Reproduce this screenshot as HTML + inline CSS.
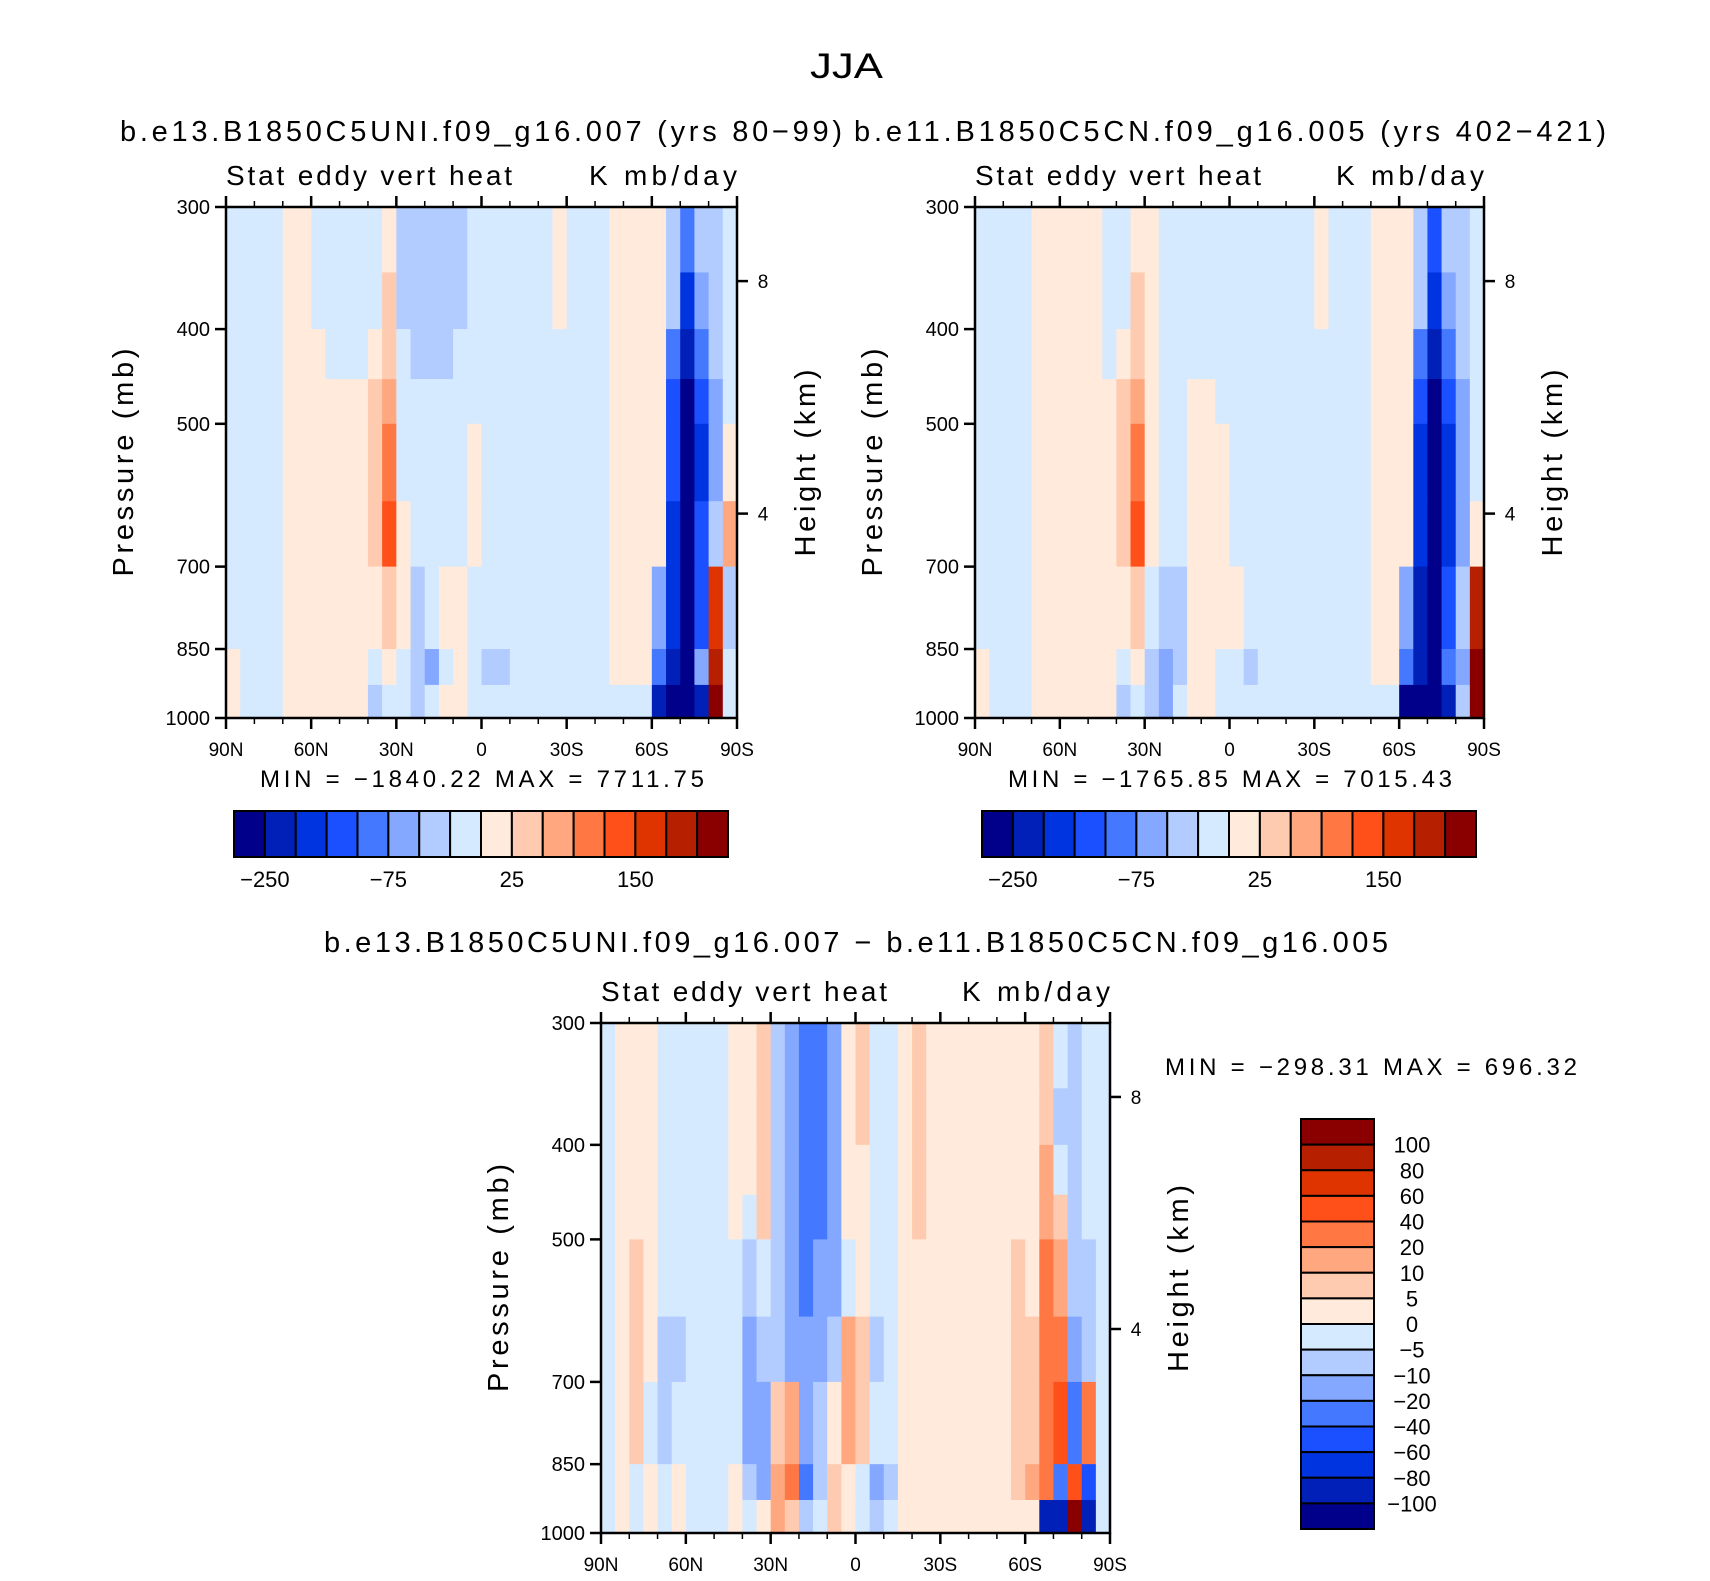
<!DOCTYPE html>
<html><head><meta charset="utf-8"><style>
html,body{margin:0;padding:0;background:#fff;}
svg{display:block;font-family:"Liberation Sans",sans-serif;}
</style></head><body>
<svg id="fig" width="1710" height="1581" viewBox="0 0 1710 1581" xmlns="http://www.w3.org/2000/svg">
<text x="810" y="78" font-size="35" textLength="73" lengthAdjust="spacingAndGlyphs">JJA</text>
<text x="120" y="141" font-size="29" textLength="722" lengthAdjust="spacing">b.e13.B1850C5UNI.f09_g16.007 (yrs 80−99)</text>
<text x="854" y="141" font-size="29" textLength="752" lengthAdjust="spacing">b.e11.B1850C5CN.f09_g16.005 (yrs 402−421)</text>
<text x="324" y="952" font-size="29" textLength="1064" lengthAdjust="spacing">b.e13.B1850C5UNI.f09_g16.007 − b.e11.B1850C5CN.f09_g16.005</text>
<g id="layer"></g>
</svg>
<script>
// ---- data ----
const pressureEdges = [300,350,400,450,500,600,700,850,925,1000];
const latEdgesCount = 36; // 5-degree columns, 90N -> 90S
const pressTicks = [300,400,500,700,850,1000];
const latTickLabels = ["90N","60N","30N","0","30S","60S","90S"];
const heightTickLabels = ["8","4"];
const levelsTop = [-250,-200,-150,-100,-75,-50,-25,0,25,50,75,100,150,200,250];
const levelsDiff = [-100,-80,-60,-40,-20,-10,-5,0,5,10,20,40,60,80,100];
const topBarLabels = ["-250","-75","25","150"];
const diffBarLabels = ["100","80","60","40","20","10","5","0","-5","-10","-20","-40","-60","-80","-100"];
const colors = ["#00008a","#0020b8","#0034e0","#1a50ff","#4478ff","#84a8ff","#b3ccff","#d6eaff","#ffeadb","#ffcbb0","#ffa880","#ff7843","#ff501a","#e03400","#b62000","#8a0000"];

const p1r0=[-10,-10,-10,-10,10,10,-10,-10,-10,-10,-10,10,-35,-35,-35,-35,-35,-10,-10,-10,-10,-10,-10,10,-10,-10,-10,10,10,10,10,-35,-90,-35,-35,-10];
const p1r1=[-10,-10,-10,-10,10,10,-10,-10,-10,-10,-10,35,-35,-35,-35,-35,-35,-10,-10,-10,-10,-10,-10,10,-10,-10,-10,10,10,10,10,-35,-175,-60,-35,-10];
const p1r2=[-10,-10,-10,-10,10,10,10,-10,-10,-10,10,35,-10,-35,-35,-35,-10,-10,-10,-10,-10,-10,-10,-10,-10,-10,-10,10,10,10,10,-90,-225,-90,-35,-10];
const p1r3=[-10,-10,-10,-10,10,10,10,10,10,10,35,60,-10,-10,-10,-10,-10,-10,-10,-10,-10,-10,-10,-10,-10,-10,-10,10,10,10,10,-125,-300,-125,-60,-10];
const p1r4=[-10,-10,-10,-10,10,10,10,10,10,10,35,90,-10,-10,-10,-10,-10,10,-10,-10,-10,-10,-10,-10,-10,-10,-10,10,10,10,10,-125,-300,-175,-60,10];
const p1r5=[-10,-10,-10,-10,10,10,10,10,10,10,35,125,10,-10,-10,-10,-10,10,-10,-10,-10,-10,-10,-10,-10,-10,-10,10,10,10,10,-175,-300,-125,-35,60];
const p1r6=[-10,-10,-10,-10,10,10,10,10,10,10,10,35,10,-35,-10,10,10,-10,-10,-10,-10,-10,-10,-10,-10,-10,-10,10,10,10,-60,-175,-300,-125,175,-35];
const p1r7=[10,-10,-10,-10,10,10,10,10,10,10,-10,10,-10,-35,-60,-10,10,-10,-35,-35,-10,-10,-10,-10,-10,-10,-10,10,10,10,-90,-225,-300,-60,225,-10];
const p1r8=[10,-10,-10,-10,10,10,10,10,10,10,-35,-10,-10,-35,-10,10,10,-10,-10,-10,-10,-10,-10,-10,-10,-10,-10,-10,-10,-10,-225,-300,-300,-225,300,-10];

const p2r0=[-10,-10,-10,-10,10,10,10,10,10,-10,-10,10,10,-10,-10,-10,-10,-10,-10,-10,-10,-10,-10,-10,10,-10,-10,-10,10,10,10,-35,-125,-35,-35,-10];
const p2r1=[-10,-10,-10,-10,10,10,10,10,10,-10,-10,35,10,-10,-10,-10,-10,-10,-10,-10,-10,-10,-10,-10,10,-10,-10,-10,10,10,10,-35,-175,-60,-35,-10];
const p2r2=[-10,-10,-10,-10,10,10,10,10,10,-10,10,35,10,-10,-10,-10,-10,-10,-10,-10,-10,-10,-10,-10,-10,-10,-10,-10,10,10,10,-90,-225,-90,-35,-10];
const p2r3=[-10,-10,-10,-10,10,10,10,10,10,10,35,60,10,-10,-10,10,10,-10,-10,-10,-10,-10,-10,-10,-10,-10,-10,-10,10,10,10,-125,-300,-125,-60,-10];
const p2r4=[-10,-10,-10,-10,10,10,10,10,10,10,35,90,10,-10,-10,10,10,10,-10,-10,-10,-10,-10,-10,-10,-10,-10,-10,10,10,10,-175,-300,-175,-60,-10];
const p2r5=[-10,-10,-10,-10,10,10,10,10,10,10,35,125,10,-10,-10,10,10,10,-10,-10,-10,-10,-10,-10,-10,-10,-10,-10,10,10,10,-175,-300,-175,-60,10];
const p2r6=[-10,-10,-10,-10,10,10,10,10,10,10,10,35,-10,-35,-35,10,10,10,10,-10,-10,-10,-10,-10,-10,-10,-10,-10,10,10,-60,-225,-300,-125,-35,225];
const p2r7=[10,-10,-10,-10,10,10,10,10,10,10,-10,10,-35,-60,-35,10,10,-10,-10,-35,-10,-10,-10,-10,-10,-10,-10,-10,10,10,-90,-225,-300,-90,-60,300];
const p2r8=[10,-10,-10,-10,10,10,10,10,10,10,-35,-10,-35,-60,-10,10,10,-10,-10,-10,-10,-10,-10,-10,-10,-10,-10,-10,-10,-10,-300,-300,-300,-225,-35,300];

const p3r0=[-2,2,2,2,-2,-2,-2,-2,-2,2,2,7,-7,-15,-30,-30,-15,2,7,-2,-2,2,7,2,2,2,2,2,2,2,2,7,-2,-7,-2,-2];
const p3r1=[-2,2,2,2,-2,-2,-2,-2,-2,2,2,7,-7,-15,-30,-30,-15,2,7,-2,-2,2,7,2,2,2,2,2,2,2,2,7,-7,-7,-2,-2];
const p3r2=[-2,2,2,2,-2,-2,-2,-2,-2,2,2,7,-7,-15,-30,-30,-15,2,2,-2,-2,2,7,2,2,2,2,2,2,2,2,15,-2,-7,-2,-2];
const p3r3=[-2,2,2,2,-2,-2,-2,-2,-2,2,-2,7,-7,-15,-30,-30,-15,2,2,-2,-2,2,7,2,2,2,2,2,2,2,2,15,7,-7,-2,-2];
const p3r4=[-2,2,7,2,-2,-2,-2,-2,-2,-2,-7,-2,-7,-15,-30,-15,-15,-2,2,-2,-2,2,2,2,2,2,2,2,2,7,2,30,15,-7,-7,-2];
const p3r5=[-2,2,7,2,-7,-7,-2,-2,-2,-2,-15,-7,-7,-15,-15,-15,-7,15,7,-7,-2,2,2,2,2,2,2,2,2,7,7,30,30,-15,-7,-2];
const p3r6=[-2,2,7,-2,-7,-2,-2,-2,-2,-2,-15,-15,7,15,-15,-7,2,15,7,-2,-2,2,2,2,2,2,2,2,2,7,7,30,50,-30,30,-2];
const p3r7=[-2,2,-2,2,-2,2,-2,-2,-2,2,-7,-15,15,30,-30,-7,7,2,-2,-15,-7,2,2,2,2,2,2,2,2,7,15,30,-30,50,-50,-2];
const p3r8=[-2,2,-2,2,-2,2,-2,-2,-2,2,-2,2,15,7,-7,-2,7,2,-2,-7,-2,2,2,2,2,2,2,2,2,2,2,-90,-90,120,-90,-2];

const grid1=[p1r0,p1r1,p1r2,p1r3,p1r4,p1r5,p1r6,p1r7,p1r8];
const grid2=[p2r0,p2r1,p2r2,p2r3,p2r4,p2r5,p2r6,p2r7,p2r8];
const grid3=[p3r0,p3r1,p3r2,p3r3,p3r4,p3r5,p3r6,p3r7,p3r8];

// ---- drawing ----
const NS="http://www.w3.org/2000/svg";
const layer=document.getElementById('layer');
function mk(tag,attrs,parent){const e=document.createElementNS(NS,tag);for(const k in attrs)e.setAttribute(k,attrs[k]);(parent||layer).appendChild(e);return e;}
function levelIndex(v,levels){let i=0;while(i<levels.length&&v>=levels[i])i++;return i;}

function panel(px,py,pw,ph,grid,levels,name){
  const g=mk('g',{});
  
  
  const yOf=p=>py+ph*Math.log(p/300)/Math.log(1000/300);
  const xOf=i=>px+pw*i/latEdgesCount;
  for(let r=0;r<grid.length;r++){
    const y0=yOf(pressureEdges[r]),y1=yOf(pressureEdges[r+1]);
    for(let c=0;c<grid[r].length;c++){
      const cell=mk('rect',{x:xOf(c).toFixed(2),y:y0.toFixed(2),width:(xOf(c+1)-xOf(c)+0.6).toFixed(2),height:(y1-y0+0.6).toFixed(2),fill:colors[levelIndex(grid[r][c],levels)]},g);
      
      
    }
  }
  const fr=mk('rect',{x:px,y:py,width:pw,height:ph,fill:'none',stroke:'#000','stroke-width':2.5},g);
  
  
  for(let k=0;k<=18;k++){
    const x=px+pw*k/18, major=k%3===0, L=major?11:6;
    mk('line',{x1:x,y1:py+ph,x2:x,y2:py+ph+L,stroke:'#000','stroke-width':major?2.5:1.5},g);
    mk('line',{x1:x,y1:py,x2:x,y2:py-L,stroke:'#000','stroke-width':major?2.5:1.5},g);
    if(major){const t=mk('text',{x:x,y:py+ph+38,'font-size':19,'text-anchor':'middle'},g);t.textContent=latTickLabels[k/3];
      
      }
  }
  pressTicks.forEach(p=>{const y=yOf(p);
    mk('line',{x1:px-11,y1:y,x2:px,y2:y,stroke:'#000','stroke-width':2.5},g);
    const t=mk('text',{x:px-16,y:y+7,'font-size':20,'text-anchor':'end'},g);t.textContent=p;
    
    });
  [0.145,0.6].forEach((f,i)=>{const y=py+ph*f;
    mk('line',{x1:px+pw,y1:y,x2:px+pw+11,y2:y,stroke:'#000','stroke-width':2.5},g);
    const t=mk('text',{x:px+pw+26,y:y+7,'font-size':19,'text-anchor':'middle'},g);t.textContent=heightTickLabels[i];
    
    });
  let t=mk('text',{x:px,y:py-22,'font-size':28,textLength:286,lengthAdjust:'spacing'},g);t.textContent='Stat eddy vert heat';
  
  
  t=mk('text',{x:px+pw-148,y:py-22,'font-size':28,textLength:148,lengthAdjust:'spacing'},g);t.textContent='K mb/day';
  
  
  const cy=py+ph*0.5;
  t=mk('text',{x:px-93-114,y:cy,'font-size':29,textLength:228,lengthAdjust:'spacing',transform:`rotate(-90 ${px-93} ${cy})`},g);
  t.textContent='Pressure (mb)';
  
  
  t=mk('text',{x:px+pw+78-94,y:cy,'font-size':29,textLength:187,lengthAdjust:'spacing',transform:`rotate(-90 ${px+pw+78} ${cy})`},g);t.textContent='Height (km)';
  
  
}
panel(226,207,511,511,grid1,levelsTop,'left-panel');
panel(975,207,509,511,grid2,levelsTop,'right-panel');
panel(601,1023,509,510,grid3,levelsDiff,'diff-panel');

function minmax(x,y,txt,w){const t=mk('text',{x:x,y:y,'font-size':24,textLength:w,lengthAdjust:'spacing'});t.textContent=txt;
  
  }
minmax(260,787,'MIN = −1840.22 MAX = 7711.75',444);
minmax(1008,787,'MIN = −1765.85 MAX = 7015.43',444);
minmax(1165,1075,'MIN = −298.31 MAX = 696.32',412);

function hbar(x0,y0,w,h,name){
  const g=mk('g',{});
  
  
  const bw=w/16;
  colors.forEach((c,i)=>{const r=mk('rect',{x:x0+i*bw,y:y0,width:bw,height:h,fill:c,stroke:'#000','stroke-width':2},g);
    
    });
  [1,5,9,13].forEach((k,i)=>{const t=mk('text',{x:x0+k*bw,y:y0+h+30,'font-size':22,'text-anchor':'middle'},g);t.textContent=topBarLabels[i].replace('-','−');
    
    });
}
hbar(234,811,494,46,'left-colorbar');
hbar(982,811,494,46,'right-colorbar');

(function(){
  const x0=1301,y0=1119,w=73,h=410,bh=h/16;
  const g=mk('g',{});
  
  
  for(let i=0;i<16;i++){const r=mk('rect',{x:x0,y:y0+i*bh,width:w,height:bh,fill:colors[15-i],stroke:'#000','stroke-width':2},g);
    
    }
  diffBarLabels.forEach((s,i)=>{const t=mk('text',{x:1412,y:y0+(i+1)*bh+8,'font-size':22,'text-anchor':'middle'},g);t.textContent=s.replace('-','−');
    
    });
})();
</script>
</body></html>
